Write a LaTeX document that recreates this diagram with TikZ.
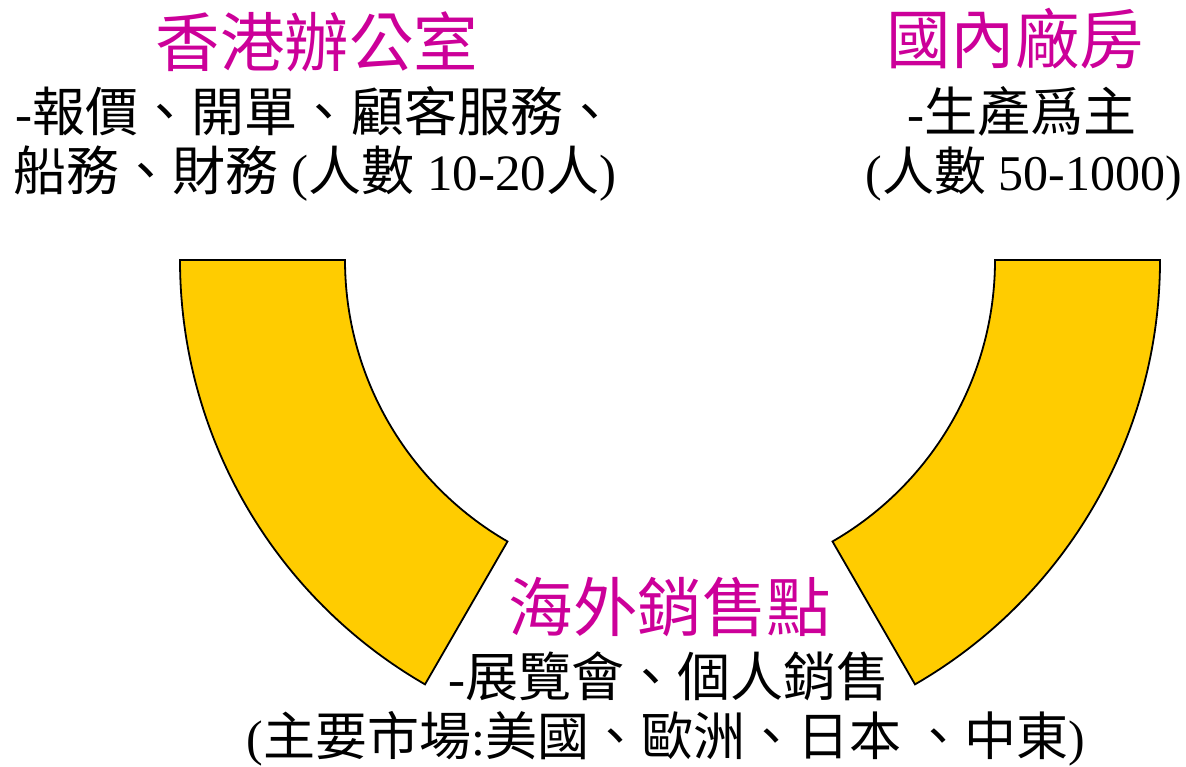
\documentclass[tikz,border=0pt]{standalone}
\usepackage{fontspec}
\setmainfont{Liberation Serif}
\newfontfamily\cjk[Scale=1.04]{Noto Sans CJK TC}
\definecolor{mag}{HTML}{CC0099}
\definecolor{yel}{HTML}{FFCC00}
\tikzset{
  titletext/.style={text=mag, font=\cjk\fontsize{31}{36}\selectfont, inner sep=0pt},
  bodytext/.style={text=black, font=\fontsize{25.5}{30}\selectfont, inner sep=0pt},
  band/.style={draw=black, fill=yel, line width=0.9pt, line join=miter}
}
\begin{document}
\begin{tikzpicture}[x=0.5pt,y=0.5pt]
\useasboundingbox (0,0) rectangle (1186,-766);
% bands
\draw[band] (180,-260) arc[start angle=180, end angle=240, radius=490]
  -- ([shift={(670,-260)}]240:325) arc[start angle=240, end angle=180, radius=325] -- cycle;
\draw[band] (1160,-260) arc[start angle=0, end angle=-60, radius=490]
  -- ([shift={(670,-260)}]-60:325) arc[start angle=-60, end angle=0, radius=325] -- cycle;
% Hong Kong office
\node[titletext] (t1) at (317,-42) {香港辦公室};
\node[bodytext] (l1a) at (316,-111) {-{\cjk 報價、開單、顧客服務、}};
\node[bodytext] (l1b) at (315,-174) {{\cjk 船務、財務} ({\cjk 人數} 10-20{\cjk 人})};
% domestic factory
\node[titletext] (t2) at (1015,-39) {國內廠房};
\node[bodytext] (l2a) at (1022,-111) {-{\cjk 生產爲主}};
\node[bodytext, font=\fontsize{25}{30}\selectfont] (l2b) at (1024,-174) {({\cjk 人數} 50-1000)};
% overseas sales
\node[titletext] (t3) at (670,-607) {海外銷售點};
\node[bodytext] (l3a) at (669,-676) {-{\cjk 展覽會、個人銷售}};
\node[bodytext, font=\fontsize{25}{30}\selectfont] (l3b) at (666,-739) {({\cjk 主要市場}:{\cjk 美國、歐洲、日本 、中東})};
\end{tikzpicture}
\end{document}
